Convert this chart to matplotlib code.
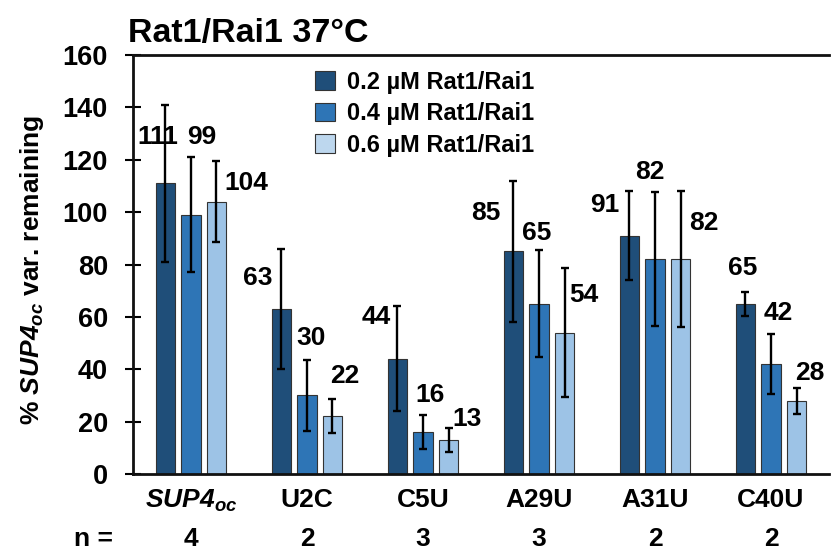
import matplotlib.pyplot as plt
import numpy as np
from matplotlib.patches import Patch

plt.rcParams["font.family"] = ["Liberation Sans", "DejaVu Sans"]
plt.rcParams["font.weight"] = "bold"
plt.rcParams["mathtext.fontset"] = "custom"
plt.rcParams["mathtext.rm"] = "Liberation Sans:bold"
plt.rcParams["mathtext.it"] = "Liberation Sans:bold:italic"
plt.rcParams["mathtext.bf"] = "Liberation Sans:bold"
plt.rcParams["mathtext.bfit"] = "Liberation Sans:bold:italic"

categories = [r"$\mathbfit{SUP4}_{\mathbfit{oc}}$", "U2C", "C5U", "A29U", "A31U", "C40U"]
n_reps = [4, 2, 3, 3, 2, 2]
series = ["0.2 µM Rat1/Rai1", "0.4 µM Rat1/Rai1", "0.6 µM Rat1/Rai1"]
vals_02 = [111, 63, 44, 85, 91, 65]
vals_04 = [99, 30, 16, 65, 82, 42]
vals_06 = [104, 22, 13, 54, 82, 28]
err_02 = [30, 23, 20, 27, 17, 4.5]
err_04 = [22, 13.5, 6.5, 20.5, 25.5, 11.5]
err_06 = [15.5, 6.5, 4.5, 24.5, 26, 5]

bar_colors = ["#1f4e79", "#2e75b6", "#9dc3e6"]
legend_colors = ["#1f4e79", "#2e75b6", "#bdd7ee"]

# label offsets from each bar top, in pixels (dx, dy)
label_offsets = [
    [(-8, 46), (-24, 31), (-21, 42), (-28, 38), (-25, 31), (-3, 36)],
    [(11, 78), (4, 57), (7, 37), (-2, 71), (-5, 87), (7, 51)],
    [(30, 19), (12, 40), (19, 21), (19, 38), (23, 36), (13, 28)],
]

fig = plt.figure(figsize=(8.31, 5.59), dpi=100)
ax = fig.add_axes([0.160, 0.152, 0.8376, 0.7496])

x = np.arange(len(categories))
step = 0.22
width = 0.17
all_vals = [vals_02, vals_04, vals_06]
all_errs = [err_02, err_04, err_06]

for i, (vals, errs) in enumerate(zip(all_vals, all_errs)):
    xs = x + (i - 1) * step
    ax.bar(xs, vals, width, color=bar_colors[i], edgecolor="#333333",
           linewidth=0.8, zorder=2)
    ax.errorbar(xs, vals, yerr=errs, fmt="none", ecolor="black",
                elinewidth=1.7, capsize=3, capthick=1.7, zorder=3)
    for xi, v, (dx, dy) in zip(xs, vals, label_offsets[i]):
        ax.annotate(f"{v:g}", xy=(xi, v), xytext=(dx, dy),
                    textcoords="offset pixels", ha="center", va="center",
                    fontsize=19, fontweight="bold", zorder=4)

ax.set_xlim(-0.5, 5.5)
ax.set_ylim(0, 160)
ax.set_yticks(np.arange(0, 161, 20))
ax.tick_params(axis="y", direction="inout", length=11, width=1.5,
               labelsize=19.5, pad=12.5)
ax.set_xticks(x)
ax.set_xticklabels(categories, fontsize=19)
ax.tick_params(axis="x", length=0, pad=10)

for side in ["left", "bottom", "top"]:
    ax.spines[side].set_linewidth(2)
    ax.spines[side].set_color("#111111")
ax.spines["right"].set_visible(False)

fig.text(32 / 831, 1 - 270 / 559,
         r"% $\mathbfit{SUP4}_{\mathbfit{oc}}$ var. remaining",
         rotation=90, ha="center", va="center", fontsize=19,
         fontweight="bold")

# replicate counts below the category labels
trans = ax.get_xaxis_transform()
ax.text(-0.84, -0.155, "n =", transform=trans, ha="center", va="center",
        fontsize=19, clip_on=False)
for xi, n in zip(x, n_reps):
    ax.text(xi, -0.155, str(n), transform=trans, ha="center", va="center",
            fontsize=19, clip_on=False)

handles = [Patch(facecolor=c, edgecolor="#333333", linewidth=0.8)
           for c in legend_colors]
ax.legend(handles, series, loc="upper left", bbox_to_anchor=(0.2485, 0.985),
          frameon=False, fontsize=17, handlelength=0.85, handleheight=0.85,
          handletextpad=0.5, labelspacing=0.36, borderaxespad=0)

fig.text(128 / 831, 1 - 42 / 559, "Rat1/Rai1 37°C", fontsize=24.5,
         fontweight="bold", ha="left", va="baseline")

fig.savefig("out.png", dpi=100)
